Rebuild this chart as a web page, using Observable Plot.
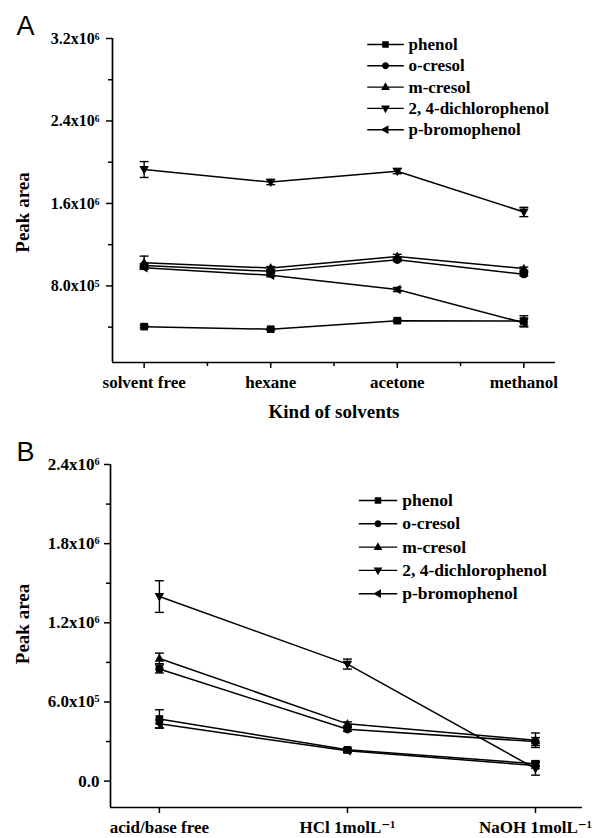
<!DOCTYPE html>
<html>
<head>
<meta charset="utf-8">
<script src="https://cdn.jsdelivr.net/npm/d3@7"></script>
<script src="https://cdn.jsdelivr.net/npm/@observablehq/plot@0.6"></script>
<style>
  html, body { margin: 0; padding: 0; background: #fff; }
  #chart svg { display: block; }
  #chart svg text { font-family: "Liberation Serif", "DejaVu Serif", serif; }
  #chart svg text.letter { font-family: "Liberation Sans", "DejaVu Sans", sans-serif; }
</style>
</head>
<body>
<div id="chart"></div>
<script>
// ---------- data ----------
const seriesNames = ["phenol", "o-cresol", "m-cresol", "2, 4-dichlorophenol", "p-bromophenol"];

// Panel A: kind of solvents
const solvents = ["solvent free", "hexane", "acetone", "methanol"];
const phenolA   = [4.05e5, 3.80e5, 4.63e5, 4.60e5];
const oCresolA  = [9.99e5, 9.41e5, 1.053e6, 9.13e5];
const mCresolA  = [1.025e6, 9.73e5, 1.086e6, 9.68e5];
const dcpA      = [1.929e6, 1.807e6, 1.913e6, 1.517e6];
const pbpA      = [9.76e5, 9.03e5, 7.65e5, 4.42e5];
const phenolAErr  = [1.2e4, 1.0e4, 1.2e4, 5.0e4];
const oCresolAErr = [1.5e4, 1.2e4, 1.5e4, 1.5e4];
const mCresolAErr = [6.4e4, 1.5e4, 2.0e4, 1.5e4];
const dcpAErr     = [7.7e4, 2.5e4, 2.5e4, 4.5e4];
const pbpAErr     = [1.5e4, 1.5e4, 2.0e4, 4.0e4];
const yTicksA = [8e5, 1.6e6, 2.4e6, 3.2e6];
const yTickLabelsA = ["8.0x10\u2075", "1.6x10\u2076", "2.4x10\u2076", "3.2x10\u2076"];
const yMinorA = [4e5, 1.2e6, 2.0e6, 2.8e6];
const xMinorA = [0.5, 1.5, 2.5];

// Panel B: acid / base
const conditions = ["acid/base free", "HCl 1molL\u207B\u00B9", "NaOH 1molL\u207B\u00B9"];
const phenolB   = [4.71e5, 2.37e5, 1.32e5];
const oCresolB  = [8.50e5, 3.93e5, 3.00e5];
const mCresolB  = [9.30e5, 4.34e5, 3.10e5];
const dcpB      = [1.399e6, 8.87e5, 9.5e4];
const pbpB      = [4.34e5, 2.30e5, 1.18e5];
const phenolBErr  = [7.0e4, 1.5e4, 2.0e4];
const oCresolBErr = [3.0e4, 1.5e4, 3.0e4];
const mCresolBErr = [4.0e4, 1.5e4, 5.5e4];
const dcpBErr     = [1.2e5, 3.8e4, 5.0e4];
const pbpBErr     = [3.0e4, 1.5e4, 2.0e4];
const yTicksB = [0, 6e5, 1.2e6, 1.8e6, 2.4e6];
const yTickLabelsB = ["0.0", "6.0x10\u2075", "1.2x10\u2076", "1.8x10\u2076", "2.4x10\u2076"];
const yMinorB = [3e5, 9e5, 1.5e6, 2.1e6];

// ---------- symbols ----------
const k0 = s => Math.sqrt(s) / 2;
const symSquare = { draw(c, s) { const k = k0(s); c.rect(-k, -k, 2 * k, 2 * k); } };
const symCircle = { draw(c, s) { const r = k0(s) * 1.08; c.moveTo(r, 0); c.arc(0, 0, r, 0, 2 * Math.PI); } };
const symUp = { draw(c, s) { const k = k0(s); c.moveTo(0, -1.3 * k); c.lineTo(1.25 * k, 0.9 * k); c.lineTo(-1.25 * k, 0.9 * k); c.closePath(); } };
const symDown = { draw(c, s) { const k = k0(s); c.moveTo(0, 1.3 * k); c.lineTo(1.25 * k, -0.9 * k); c.lineTo(-1.25 * k, -0.9 * k); c.closePath(); } };
const symLeft = { draw(c, s) { const k = k0(s); c.moveTo(-1.3 * k, 0); c.lineTo(0.9 * k, -1.25 * k); c.lineTo(0.9 * k, 1.25 * k); c.closePath(); } };
const symCap = { draw(c, s) { const k = k0(s); c.moveTo(-1.4 * k, 0); c.lineTo(1.4 * k, 0); } };
const seriesSymbols = [symSquare, symCircle, symUp, symDown, symLeft];
const legendSym = (base, L) => ({ draw(c, s) { c.moveTo(-L, 0); c.lineTo(L, 0); base.draw(c, s); } });

const serif = "Liberation Serif, DejaVu Serif, serif";
const sans = "Liberation Sans, DejaVu Sans, sans-serif";

function rowsOf(values, errs, cats) {
  return seriesNames.flatMap((s, si) => cats.map((c, ci) => ({
    series: s, si, x: ci, y: values[si][ci], e: errs[si][ci]
  })));
}

function panel(cfg) {
  const rows = rowsOf(cfg.values, cfg.errs, cfg.cats);
  const marks = [];
  // axes lines
  marks.push(Plot.ruleX([cfg.xDomain[0]], { stroke: "black", strokeWidth: 1.7 }));
  marks.push(Plot.ruleY([cfg.yDomain[0]], { stroke: "black", strokeWidth: 1.7 }));
  // y axis
  marks.push(Plot.axisY({
    ticks: cfg.yTicks, tickSize: 6, tickPadding: cfg.yPad, strokeWidth: 1.5,
    tickFormat: d => cfg.yLabels[cfg.yTicks.indexOf(d)], fontSize: cfg.yFont, fontFamily: serif, fontWeight: "bold", label: null
  }));
  marks.push(Plot.axisY({ ticks: cfg.yMinor, tickSize: 4, strokeWidth: 1.5, tickFormat: () => "", label: null }));
  // x axis
  marks.push(Plot.axisX({
    ticks: d3.range(cfg.cats.length), tickSize: 6, tickPadding: 7, strokeWidth: 1.5,
    tickFormat: d => cfg.cats[d], fontSize: 17, fontFamily: serif, fontWeight: "bold", label: null
  }));
  if (cfg.xMinor.length) marks.push(Plot.axisX({ ticks: cfg.xMinor, tickSize: 4, strokeWidth: 1.5, tickFormat: () => "", label: null }));
  // data lines
  marks.push(Plot.line(rows, { x: "x", y: "y", z: "series", stroke: "black", strokeWidth: 1.5 }));
  // error bars
  marks.push(Plot.ruleX(rows, { x: "x", y1: d => d.y - d.e, y2: d => d.y + d.e, stroke: "black", strokeWidth: 1.4 }));
  marks.push(Plot.dot(rows, { x: "x", y: d => d.y + d.e, symbol: symCap, r: 3.6, fill: "none", stroke: "black", strokeWidth: 1.4 }));
  marks.push(Plot.dot(rows, { x: "x", y: d => d.y - d.e, symbol: symCap, r: 3.6, fill: "none", stroke: "black", strokeWidth: 1.4 }));
  // markers
  seriesNames.forEach((s, si) => {
    marks.push(Plot.dot(rows.filter(d => d.si === si), { x: "x", y: "y", symbol: seriesSymbols[si], r: 4.3, fill: "black" }));
  });
  // legend
  seriesNames.forEach((s, si) => {
    const dy = cfg.leg.dy0 + cfg.leg.step * si;
    marks.push(Plot.dot([s], {
      frameAnchor: "top-left", dx: cfg.leg.dxSym, dy,
      symbol: legendSym(seriesSymbols[si], cfg.leg.L), r: 2.9,
      fill: "black", stroke: "black", strokeWidth: 1.4
    }));
    marks.push(Plot.text([s], {
      frameAnchor: "top-left", dx: cfg.leg.dxText, dy, text: d => d,
      textAnchor: "start", lineAnchor: "middle", fontSize: cfg.leg.fontSize, fontFamily: serif, fontWeight: "bold", fill: "black"
    }));
  });
  // titles
  marks.push(Plot.text(["Peak area"], {
    frameAnchor: "left", text: d => d, rotate: -90, dx: cfg.yTitle.dx, dy: cfg.yTitle.dy,
    textAnchor: "middle", lineAnchor: "middle", fontSize: 19, fontFamily: serif, fontWeight: "bold", fill: "black"
  }));
  if (cfg.xTitle) marks.push(Plot.text([cfg.xTitle.text], {
    frameAnchor: "bottom", text: d => d, dy: cfg.xTitle.dy,
    textAnchor: "middle", lineAnchor: "middle", fontSize: 19, fontFamily: serif, fontWeight: "bold", fill: "black"
  }));
  marks.push(Plot.text([cfg.letter.text], {
    frameAnchor: "top-left", text: d => d, dx: cfg.letter.dx, dy: cfg.letter.dy,
    textAnchor: "start", lineAnchor: "middle", fontSize: 27, fontFamily: sans, fontWeight: "normal", fill: "black"
  }));

  const svg = Plot.plot({
    width: 610, height: cfg.height,
    marginLeft: cfg.m[0], marginRight: cfg.m[1], marginTop: cfg.m[2], marginBottom: cfg.m[3],
    x: { type: "linear", domain: cfg.xDomain, axis: null },
    y: { type: "linear", domain: cfg.yDomain, axis: null },
    style: { fontFamily: serif, fontWeight: "bold", color: "black", background: "white", overflow: "visible" },
    marks
  });
  d3.select(svg).selectAll("text").filter(function () { return this.textContent === cfg.letter.text; })
    .classed("letter", true);
  return svg;
}

const plotA = panel({
  values: [phenolA, oCresolA, mCresolA, dcpA, pbpA],
  errs: [phenolAErr, oCresolAErr, mCresolAErr, dcpAErr, pbpAErr],
  cats: solvents,
  height: 420, m: [112, 55, 38, 58],
  xDomain: [-0.25, 3.25], yDomain: [57000, 3.2e6],
  yTicks: yTicksA, yLabels: yTickLabelsA, yMinor: yMinorA, xMinor: xMinorA, yPad: 7, yFont: 16,
  leg: { dxSym: 273, dxText: 296, dy0: 6, step: 21.3, L: 18.3, fontSize: 17 },
  yTitle: { dx: -90, dy: 12 },
  xTitle: { text: "Kind of solvents", dy: 49 },
  letter: { text: "A", dx: -96, dy: -12 }
});

const plotB = panel({
  values: [phenolB, oCresolB, mCresolB, dcpB, pbpB],
  errs: [phenolBErr, oCresolBErr, mCresolBErr, dcpBErr, pbpBErr],
  cats: conditions,
  height: 418, m: [110, 28, 44, 31],
  xDomain: [-0.26, 2.25], yDomain: [-2.0e5, 2.4e6],
  yTicks: yTicksB, yLabels: yTickLabelsB, yMinor: yMinorB, xMinor: [], yPad: 5, yFont: 17,
  leg: { dxSym: 267.5, dxText: 291.7, dy0: 36, step: 23.3, L: 19.2, fontSize: 17.5 },
  yTitle: { dx: -88, dy: -12 },
  xTitle: null,
  letter: { text: "B", dx: -94, dy: -12 }
});

const root = document.getElementById("chart");
root.appendChild(plotA);
root.appendChild(plotB);
</script>
</body>
</html>
